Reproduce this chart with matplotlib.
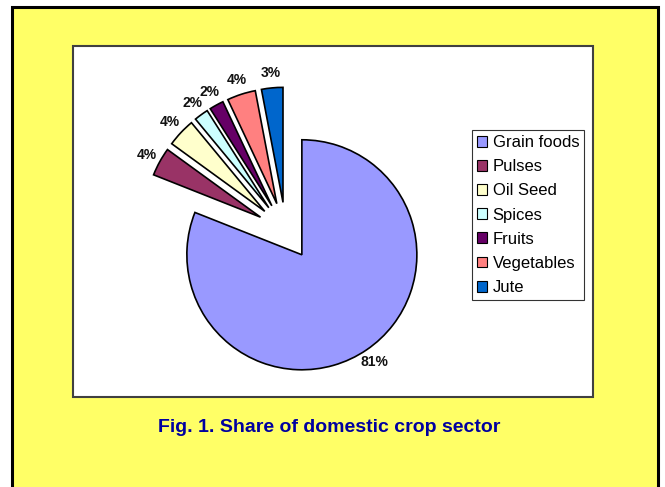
import matplotlib
matplotlib.use("Agg")
import matplotlib.pyplot as plt
from matplotlib.patches import Rectangle

categories = ["Grain foods", "Pulses", "Oil Seed", "Spices", "Fruits", "Vegetables", "Jute"]
shares = [81, 4, 4, 2, 2, 4, 3]
colors = ["#9999FF", "#993366", "#FFFFCC", "#CCFFFF", "#660066", "#FF8080", "#0066CC"]
title = "Fig. 1. Share of domestic crop sector"

W, H = 665, 487
fig = plt.figure(figsize=(W / 100, H / 100), dpi=100)
fig.patch.set_facecolor("white")

bg = fig.add_axes([0, 0, 1, 1], zorder=-1)
bg.set_xlim(0, W)
bg.set_ylim(H, 0)
bg.axis("off")
# yellow outer panel
bg.add_patch(Rectangle((12, 7), 646, 500, facecolor="#FFFF66", edgecolor="black", linewidth=2.2))
# white plot area
bg.add_patch(Rectangle((73, 46), 520, 351, facecolor="white", edgecolor="#404040", linewidth=1.5))
bg.text(329, 427, title, ha="center", va="center", fontsize=14.0, fontweight="bold",
        color="#0000A0", family="Liberation Sans")

# pie axes: centre at (285.7, 231) px, radius 115 px
cx, cy, R, L = 285.7, 231.0, 115.0, 1.5
side = 2 * L * R
ax = fig.add_axes([(cx - side / 2) / W, (H - cy - side / 2) / H, side / W, side / H])
wedges, texts, autotexts = ax.pie(
    shares, explode=[0.25] * len(shares), colors=colors, startangle=90, counterclock=False,
    autopct=lambda p: f"{p:.0f}%", pctdistance=1.13,
    wedgeprops=dict(edgecolor="black", linewidth=1.2),
    textprops=dict(fontsize=10, fontweight="bold", family="Liberation Sans", color="#111111"))
ax.set_xlim(-L, L)
ax.set_ylim(-L, L)
ax.set_aspect("equal")
ax.axis("off")

leg = ax.legend(wedges, categories, loc="upper left",
                bbox_to_anchor=(472 / W, 1 - 130 / H), bbox_transform=fig.transFigure,
                borderaxespad=0, frameon=True, fancybox=False, edgecolor="black",
                prop=dict(family="Liberation Sans", size=12),
                handlelength=0.62, handleheight=0.62, handletextpad=0.32,
                labelspacing=0.55, borderpad=0.3)
leg.get_frame().set_linewidth(0.8)
for h in leg.legend_handles:
    h.set_linewidth(0.8)

fig.savefig("out.png", dpi=100, facecolor=fig.get_facecolor())
